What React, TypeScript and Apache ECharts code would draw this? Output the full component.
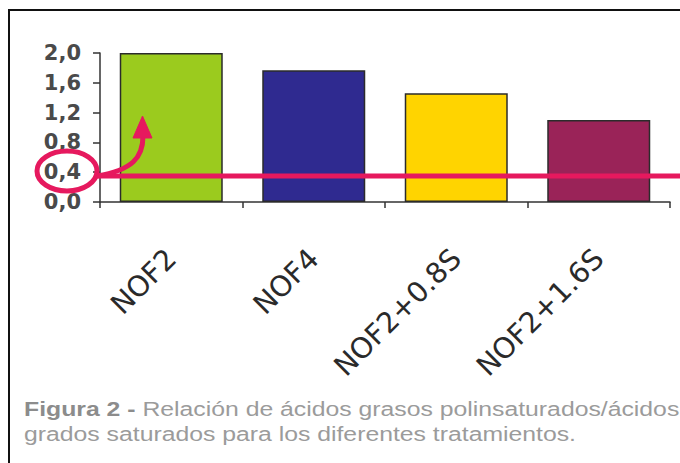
import React, { useEffect, useRef } from "react";
import * as echarts from "echarts";

const categories = ["NOF2", "NOF4", "NOF2+0.8S", "NOF2+1.6S"];
const values = [2.0, 1.77, 1.46, 1.1];
const barColors = ["#9BCB1E", "#2F2A90", "#FFD400", "#9A2358"];
const yMin = 0;
const yMax = 2.0;
const yInterval = 0.4;
const highlightValue = 0.35;
const captionBold = "Figura 2 -";
const captionLine1 = " Relación de ácidos grasos polinsaturados/ácidos";
const captionLine2 = "grados saturados para los diferentes tratamientos.";

const PINK = "#E6195E";

export default function App() {
  const ref = useRef<HTMLDivElement>(null);
  useEffect(() => {
    if (!ref.current) return;
    const chart = echarts.init(ref.current, null, { renderer: "svg" });
    chart.setOption({
      animation: false,
      backgroundColor: "#ffffff",
      grid: { left: 100, right: 10, top: 53, bottom: 261, containLabel: false },
      xAxis: {
        type: "category",
        data: categories,
        boundaryGap: true,
        axisLine: { show: true, lineStyle: { color: "#333", width: 1.5 } },
        axisTick: { show: true, alignWithLabel: false, length: 6, lineStyle: { color: "#333", width: 1.5 } },
        axisLabel: {
          rotate: 45,
          margin: 52,
          interval: 0,
          color: "#2a2a2a",
          fontFamily: "DejaVu Sans",
          fontSize: 28.5,
        },
        splitLine: { show: false },
      },
      yAxis: {
        type: "value",
        min: yMin,
        max: yMax,
        interval: yInterval,
        axisLine: { show: true, lineStyle: { color: "#333", width: 1.5 } },
        axisTick: { show: true, length: 7, lineStyle: { color: "#333", width: 1.5 } },
        axisLabel: {
          margin: 19,
          color: "#4a4a4a",
          fontFamily: "DejaVu Sans",
          fontWeight: "bold",
          fontSize: 21,
          formatter: (v: number) => v.toFixed(1).replace(".", ","),
        },
        splitLine: { show: false },
      },
      series: [
        {
          type: "bar",
          barWidth: 103,
          data: values.map((v, i) => ({
            value: v,
            itemStyle: { color: barColors[i], borderColor: "#2b2b2b", borderWidth: 1.5 },
          })),
        },
      ],
    });

    const yLine = chart.convertToPixel({ yAxisIndex: 0 }, highlightValue) as number;

    chart.setOption({
      graphic: [
        {
          type: "rect",
          shape: { x: 9, y: 10, width: 720, height: 500 },
          style: { fill: "none", stroke: "#111", lineWidth: 2 },
          z: 100,
        },
        {
          type: "line",
          shape: { x1: 97, y1: yLine, x2: 690, y2: yLine },
          style: { stroke: PINK, lineWidth: 5 },
          z: 100,
        },
        {
          type: "ellipse",
          shape: { cx: 67, cy: 171, rx: 30, ry: 20 },
          style: { fill: "none", stroke: PINK, lineWidth: 5 },
          z: 100,
        },
        {
          type: "bezierCurve",
          shape: { x1: 97, y1: yLine, cpx1: 132, cpy1: 170, cpx2: 143, cpy2: 158, x2: 143, y2: 136 },
          style: { fill: "none", stroke: PINK, lineWidth: 5 },
          z: 100,
        },
        {
          type: "polygon",
          shape: { points: [[133, 138], [152, 138], [142.5, 116]] },
          style: { fill: PINK, stroke: PINK, lineWidth: 1, lineJoin: "round" },
          z: 100,
        },
        {
          type: "text",
          x: 24,
          y: 419,
          scaleX: 1.18,
          style: {
            text: "{b|" + captionBold + "}" + captionLine1,
            fontFamily: "Liberation Sans",
            fontSize: 21,
            fill: "#9b9b9b",
            verticalAlign: "bottom",
            rich: {
              b: { fontFamily: "Liberation Sans", fontSize: 21, fontWeight: "bold", fill: "#8c8c8c" },
            },
          },
          z: 100,
        },
        {
          type: "text",
          x: 24,
          y: 444,
          scaleX: 1.18,
          style: {
            text: captionLine2,
            fontFamily: "Liberation Sans",
            fontSize: 21,
            fill: "#9b9b9b",
            verticalAlign: "bottom",
          },
          z: 100,
        },
      ],
    });

    return () => chart.dispose();
  }, []);
  return (
    <div
      ref={ref}
      style={{ position: "fixed", left: 0, top: 0, width: 680, height: 463 }}
    />
  );
}
